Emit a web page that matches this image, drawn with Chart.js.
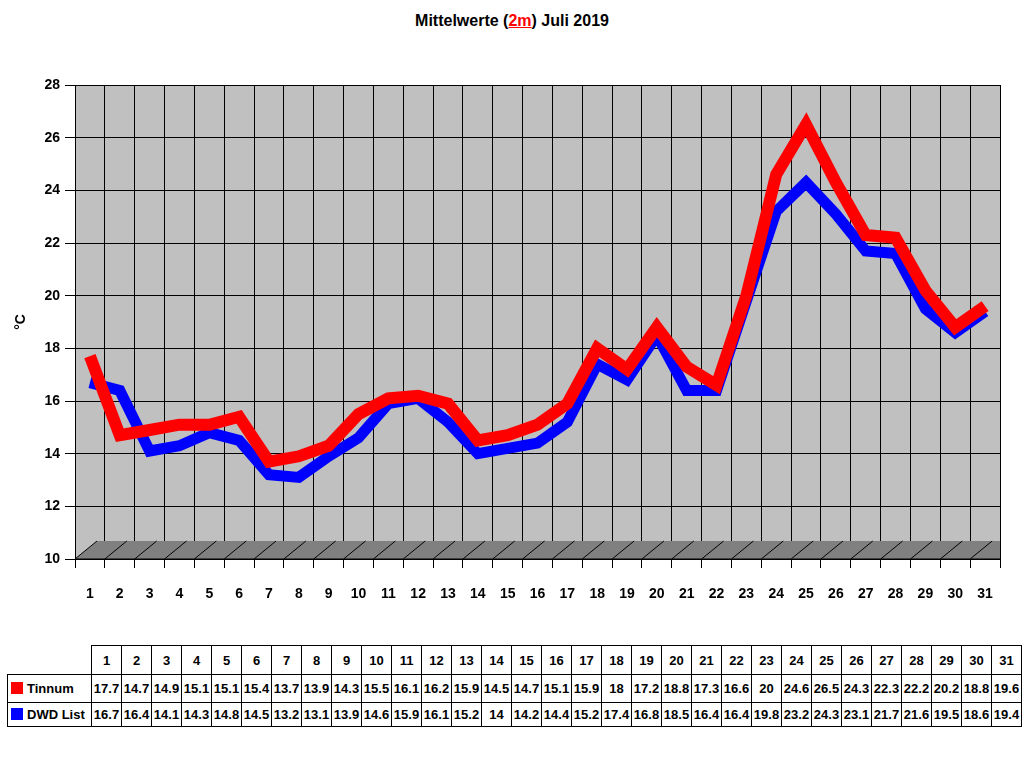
<!DOCTYPE html>
<html>
<head>
<meta charset="utf-8">
<script src="https://cdn.jsdelivr.net/npm/chart.js@4.4.1/dist/chart.umd.min.js"></script>
<style>
    body { margin: 0; background: #fff; font-family: "Liberation Sans", Arial, sans-serif; }
    #wrap { position: relative; width: 1024px; height: 768px; }
    #title { position: absolute; top: 12px; left: 0; width: 1024px; text-align: center; font-weight: bold; font-size: 16px; color: #000; }
    #title span { color: #ff0000; text-decoration: underline; }
    #myChart { position: absolute; left: 0; top: 0; }
    #dataTable { position: absolute; left: 7px; top: 645px; border-collapse: collapse; font-weight: bold; font-size: 13px; }
    #dataTable td { border: 1px solid #000; text-align: center; padding: 0; width: 29px; }
    #dataTable td.lbl { width: 80px; text-align: left; white-space: nowrap; padding-left: 3px; }
    #dataTable td.blank { border-top: none; border-left: none; }
    .key { display: inline-block; width: 12px; height: 12px; margin-right: 4px; vertical-align: -1px; }
</style>
</head>
<body>
<div id="wrap">
    <div id="title">Mittelwerte (<span>2m</span>) Juli 2019</div>
    <canvas id="myChart" width="1024" height="640"></canvas>
    <table id="dataTable"></table>
</div>
<script>
const days = ['1','2','3','4','5','6','7','8','9','10','11','12','13','14','15','16','17','18','19','20','21','22','23','24','25','26','27','28','29','30','31'];
const tinnum = [17.7,14.7,14.9,15.1,15.1,15.4,13.7,13.9,14.3,15.5,16.1,16.2,15.9,14.5,14.7,15.1,15.9,18,17.2,18.8,17.3,16.6,20,24.6,26.5,24.3,22.3,22.2,20.2,18.8,19.6];
const dwdList = [16.7,16.4,14.1,14.3,14.8,14.5,13.2,13.1,13.9,14.6,15.9,16.1,15.2,14,14.2,14.4,15.2,17.4,16.8,18.5,16.4,16.4,19.8,23.2,24.3,23.1,21.7,21.6,19.5,18.6,19.4];
const seriesNames = ['Tinnum', 'DWD List'];
const seriesColors = ['#ff0000', '#0000ff'];

// table under the chart
function buildTable() {
    let table = document.getElementById('dataTable');
    let head = '<tr style="height:29px"><td class="lbl blank"></td>';
    days.forEach(d => { head += '<td>' + d + '</td>'; });
    head += '</tr>';
    let rows = [tinnum, dwdList].map((vals, i) => {
        let h = i == 0 ? 28 : 24;
        let r = '<tr style="height:' + h + 'px"><td class="lbl"><span class="key" style="background:' + seriesColors[i] + '"></span>' + seriesNames[i] + '</td>';
        vals.forEach(v => { r += '<td>' + v + '</td>'; });
        return r + '</tr>';
    });
    table.innerHTML = head + rows.join('');
}
buildTable();

// gray wall behind the plot and a dark floor strip
const wallPlugin = {
    id: 'wall',
    beforeDraw(chart) {
        const a = chart.chartArea;
        const c = chart.ctx;
        c.save();
        c.fillStyle = '#c0c0c0';
        c.fillRect(a.left, a.top, a.right - a.left, a.bottom - a.top);
        c.restore();
    },
    beforeDatasetsDraw(chart) {
        const a = chart.chartArea;
        const c = chart.ctx;
        const x = chart.scales.x;
        const depth = 18, shift = 22;
        c.save();
        c.fillStyle = '#808080';
        c.beginPath();
        c.moveTo(a.left, a.bottom);
        c.lineTo(a.right, a.bottom);
        c.lineTo(a.right, a.bottom - depth);
        c.lineTo(a.left + shift, a.bottom - depth);
        c.closePath();
        c.fill();
        c.strokeStyle = '#000';
        c.lineWidth = 1;
        const step = (a.right - a.left) / days.length;
        for (let i = 0; i < days.length; i++) {
            let px = x.getPixelForValue(i) - step / 2;
            c.beginPath();
            c.moveTo(px, a.bottom);
            c.lineTo(Math.min(px + shift, a.right), a.bottom - depth);
            c.stroke();
        }
        c.beginPath();
        c.moveTo(a.left, a.bottom);
        c.lineTo(a.right, a.bottom);
        c.stroke();
        c.restore();
    }
};

const ctx = document.getElementById('myChart');
const myChart = new Chart(ctx, {
    type: 'line',
    data: {
        labels: days,
        datasets: [{
            label: seriesNames[0],
            data: tinnum,
            borderColor: seriesColors[0],
            backgroundColor: seriesColors[0],
            borderWidth: 12,
            pointRadius: 0,
            tension: 0,
            borderJoinStyle: 'miter',
            borderCapStyle: 'butt'
        }, {
            label: seriesNames[1],
            data: dwdList,
            borderColor: seriesColors[1],
            backgroundColor: seriesColors[1],
            borderWidth: 11,
            pointRadius: 0,
            tension: 0,
            borderJoinStyle: 'miter',
            borderCapStyle: 'butt'
        }]
    },
    options: {
        responsive: false,
        animation: false,
        devicePixelRatio: 1,
        layout: { padding: { top: 85, right: 24, bottom: 0, left: 0 } },
        plugins: {
            legend: { display: false },
            tooltip: { enabled: false }
        },
        scales: {
            x: {
                offset: true,
                grid: { offset: true, color: '#000', tickLength: 9, drawOnChartArea: true },
                border: { color: '#000' },
                ticks: {
                    color: '#000',
                    padding: 18,
                    maxRotation: 0,
                    autoSkip: false,
                    font: { family: 'Liberation Sans', size: 14, weight: 'bold' }
                },
                afterFit: (scale) => { scale.height = 81; }
            },
            y: {
                min: 10,
                max: 28,
                grid: { color: '#000', tickLength: 10 },
                border: { color: '#000' },
                ticks: {
                    stepSize: 2,
                    color: '#000',
                    padding: 5,
                    font: { family: 'Liberation Sans', size: 14, weight: 'bold' }
                },
                title: {
                    display: true,
                    text: '°C',
                    color: '#000',
                    padding: { top: 13, bottom: 0 },
                    font: { family: 'Liberation Sans', size: 14, weight: 'bold' }
                },
                afterFit: (scale) => { scale.width = 75; }
            }
        }
    },
    plugins: [wallPlugin]
});
</script>
</body>
</html>
